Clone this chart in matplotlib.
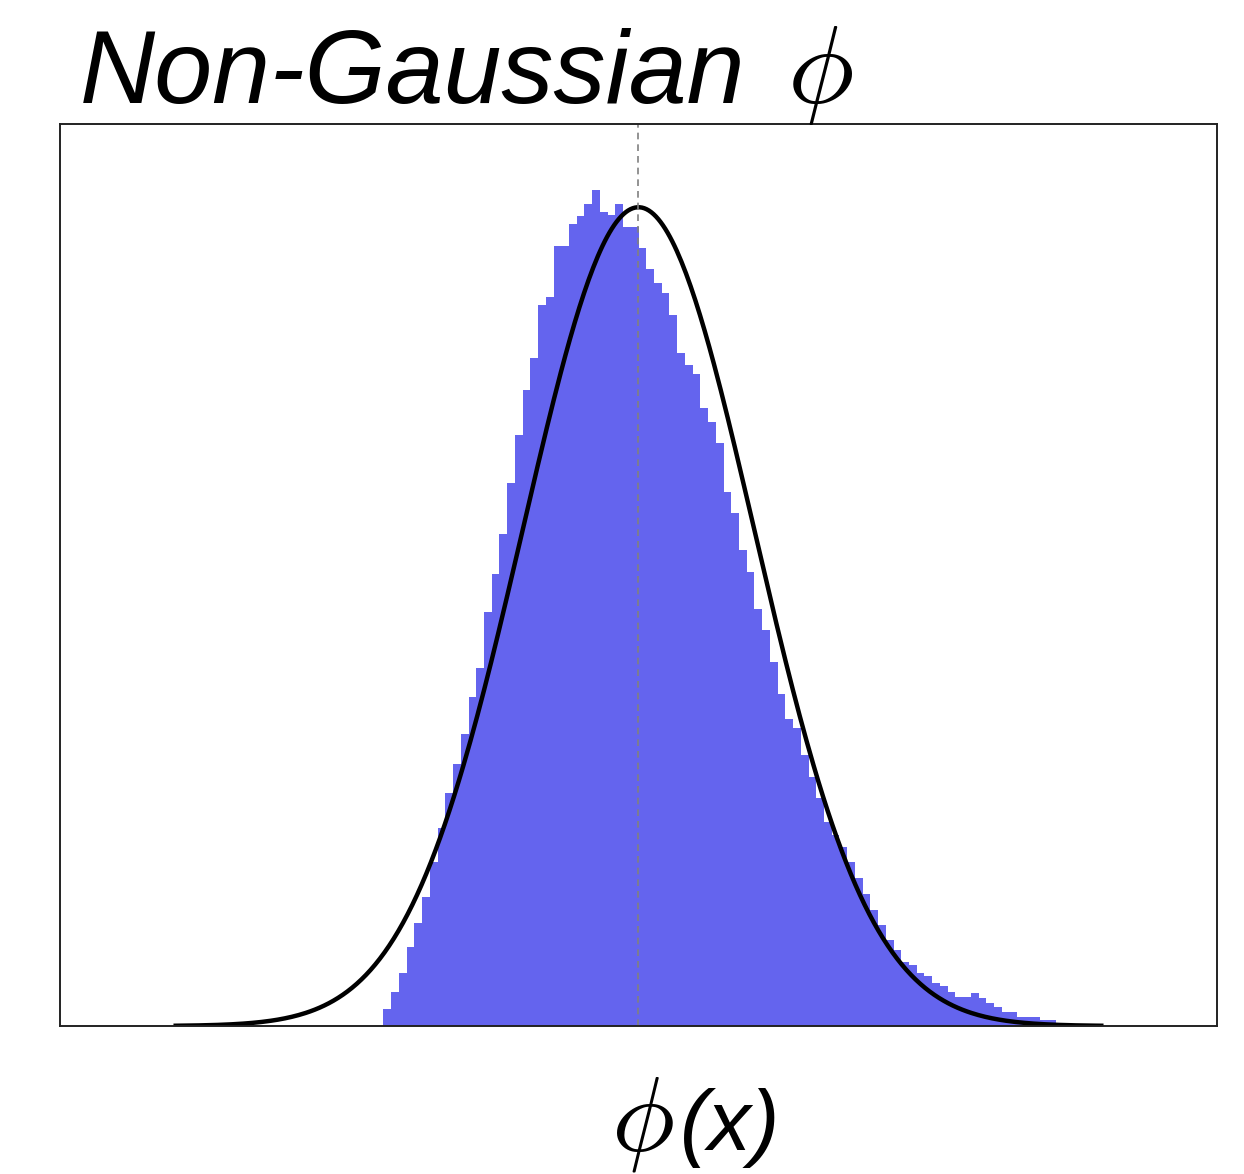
import numpy as np
import matplotlib
matplotlib.use("Agg")
import matplotlib.pyplot as plt

plt.rcParams['mathtext.fontset'] = 'cm'
plt.rcParams['font.family'] = ['Liberation Sans', 'DejaVu Sans']

# histogram of the field values (density), equal-width bins
hist_lo, hist_hi = -2.204, 3.607
hist_density = [
    0.0081, 0.0167, 0.0257, 0.0383, 0.0500, 0.0630, 0.0799, 0.0963, 0.1136, 0.1279,
    0.1421, 0.1604, 0.1746, 0.2018, 0.2201, 0.2396, 0.2646, 0.2878, 0.3100, 0.3253,
    0.3514, 0.3553, 0.3799, 0.3800, 0.3909, 0.3945, 0.4007, 0.4071, 0.3966, 0.3950,
    0.4007, 0.3893, 0.3893, 0.3789, 0.3687, 0.3618, 0.3570, 0.3463, 0.3279, 0.3219,
    0.3175, 0.3010, 0.2941, 0.2839, 0.2601, 0.2498, 0.2318, 0.2212, 0.2034, 0.1929,
    0.1774, 0.1617, 0.1498, 0.1450, 0.1320, 0.1214, 0.1109, 0.0995, 0.0930, 0.0872,
    0.0799, 0.0721, 0.0643, 0.0565, 0.0492, 0.0419, 0.0370, 0.0313, 0.0297, 0.0258,
    0.0244, 0.0209, 0.0195, 0.0166, 0.0141, 0.0141, 0.0162, 0.0135, 0.0111, 0.0094,
    0.0070, 0.0070, 0.0045, 0.0045, 0.0045, 0.0029, 0.0029,
]
bin_edges = np.linspace(hist_lo, hist_hi, len(hist_density) + 1)

# reference Gaussian with the same mean and variance
mu, sigma = 0.0, 1.0
gx = np.linspace(mu - 4 * sigma, mu + 4 * sigma, 400)
gy = np.exp(-0.5 * ((gx - mu) / sigma) ** 2) / (sigma * np.sqrt(2 * np.pi))

fig = plt.figure(figsize=(12.44, 11.74), dpi=100)
ax = fig.add_axes([0.04823, 0.12606, 0.93006, 0.76832])

ax.stairs(hist_density, bin_edges, fill=True, color='#6464EE', lw=0)
ax.plot(gx, gy, color='black', lw=3.2)
ax.axvline(mu, color='grey', lw=1.2, ls=(0, (4, 3)))

ax.set_xlim(-5, 5)
ax.set_ylim(0, 0.4395)
ax.set_xticks([])
ax.set_yticks([])
for sp in ax.spines.values():
    sp.set_color('#222222')
    sp.set_linewidth(1.4)

# title: text plus a larger phi
fig.text(0.0643, 0.9123, 'Non-Gaussian', fontsize=75, style='italic',
         ha='left', va='baseline')
fig.text(0.6330, 0.9123, r'$\phi$', fontsize=80, ha='left', va='baseline')

# x label
fig.text(0.4910, 0.0204, r'$\phi$', fontsize=76, ha='left', va='baseline')
fig.text(0.5466, 0.0204, '(x)', fontsize=62, style='italic',
         ha='left', va='baseline')

fig.savefig('out.png', dpi=100)
